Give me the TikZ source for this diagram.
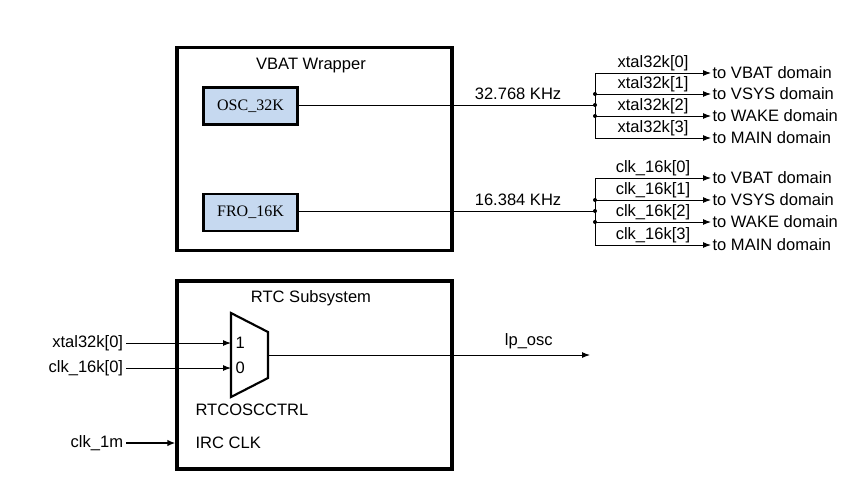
\documentclass[tikz,border=0pt]{standalone}
\usepackage{fontspec}
\setmainfont{Liberation Sans}
\newfontfamily\timesfont{Liberation Serif}
\usetikzlibrary{arrows.meta}
\definecolor{blockblue}{HTML}{C6D9F0}
\tikzset{
    wrapper/.style={draw, line width=2.5pt, minimum width=275\mypx, minimum height=203\mypx},
    oscbox/.style={draw, fill=blockblue, line width=2.2pt, minimum width=94\mypx, minimum height=37\mypx, font=\timesfont\fontsize{12}{14}\selectfont},
    lbl/.style={inner sep=1.5pt},
    freq/.style={inner sep=4pt},
    sig/.style={-{Latex[length=6pt,width=4.5pt]}, line width=0.75pt},
    wire/.style={line width=0.75pt},
    dot/.style={circle, fill, inner sep=0pt, minimum size=4\mypx}
}
\newlength{\mypx}
\setlength{\mypx}{0.75pt}
\begin{document}
\begin{tikzpicture}[x=0.75pt, y=-0.75pt, font=\fontsize{12.4}{14}\selectfont]
    \useasboundingbox (0,0) rectangle (862,482);

    % VBAT Wrapper
    \node[wrapper] (vbat) at (314.5,149) {};
    \node (vbattitle) at (311,66) {VBAT Wrapper};
    \node[oscbox] (osc) at (250.5,106) {OSC\_32K};
    \node[oscbox] (fro) at (250.5,212.5) {FRO\_16K};

    % 32K fan-out
    \coordinate (x32) at (595,105);
    \node[anchor=west, inner sep=1pt] (x32a) at (711,73) {to VBAT domain};
    \node[anchor=west, inner sep=1pt] (x32b) at (711,94) {to VSYS domain};
    \node[anchor=west, inner sep=1pt] (x32c) at (711,116) {to WAKE domain};
    \node[anchor=west, inner sep=1pt] (x32d) at (711,138) {to MAIN domain};
    \draw[wire] (osc.east |- x32) -- node[pos=0.74, above, freq] {32.768 KHz} (x32);
    \draw[wire] (x32a.west -| x32) -- (x32d.west -| x32);
    \draw[sig] (x32a.west -| x32) -- node[midway, above, lbl] {xtal32k[0]} (x32a.west);
    \draw[sig] (x32b.west -| x32) -- node[midway, above, lbl] {xtal32k[1]} (x32b.west);
    \draw[sig] (x32c.west -| x32) -- node[midway, above, lbl] {xtal32k[2]} (x32c.west);
    \draw[sig] (x32d.west -| x32) -- node[midway, above, lbl] {xtal32k[3]} (x32d.west);
    \node[dot] at (x32) {};
    \node[dot] at (x32b.west -| x32) {};
    \node[dot] at (x32c.west -| x32) {};

    % 16K fan-out
    \coordinate (x16) at (595,211);
    \node[anchor=west, inner sep=1pt] (x16a) at (711,178) {to VBAT domain};
    \node[anchor=west, inner sep=1pt] (x16b) at (711,200) {to VSYS domain};
    \node[anchor=west, inner sep=1pt] (x16c) at (711,222) {to WAKE domain};
    \node[anchor=west, inner sep=1pt] (x16d) at (711,245) {to MAIN domain};
    \draw[wire] (fro.east |- x16) -- node[pos=0.74, above, freq] {16.384 KHz} (x16);
    \draw[wire] (x16a.west -| x16) -- (x16d.west -| x16);
    \draw[sig] (x16a.west -| x16) -- node[midway, above, lbl] {clk\_16k[0]} (x16a.west);
    \draw[sig] (x16b.west -| x16) -- node[midway, above, lbl] {clk\_16k[1]} (x16b.west);
    \draw[sig] (x16c.west -| x16) -- node[midway, above, lbl] {clk\_16k[2]} (x16c.west);
    \draw[sig] (x16d.west -| x16) -- node[midway, above, lbl] {clk\_16k[3]} (x16d.west);
    \node[dot] at (x16) {};
    \node[dot] at (x16b.west -| x16) {};
    \node[dot] at (x16c.west -| x16) {};

    % RTC Subsystem
    \node[wrapper, minimum height=188\mypx] (rtc) at (314.5,375) {};
    \node (rtctitle) at (311,298) {RTC Subsystem};

    % Mux
    \draw[line width=1.6pt] (231,313) -- (268,332) -- (268,378) -- (231,397) -- cycle;
    \coordinate (mux1) at (231,343);
    \coordinate (mux0) at (231,368);
    \coordinate (muxo) at (268,355);
    \node[anchor=west, inner sep=1pt] (one) at (234,343) {1};
    \node[anchor=west, inner sep=1pt] (zero) at (234,368) {0};
    \node[anchor=west, inner sep=1pt] (ctrl) at (194,410) {RTCOSCCTRL};
    \node[anchor=west, inner sep=1pt] (irc) at (194,443) {IRC CLK};

    % Inputs
    \node[anchor=east, inner sep=2pt] (inx) at (126,343) {xtal32k[0]};
    \node[anchor=east, inner sep=2pt] (inc) at (126,368) {clk\_16k[0]};
    \node[anchor=east, inner sep=2pt] (in1m) at (126,443) {clk\_1m};
    \draw[sig] (inx.east) -- (mux1);
    \draw[sig] (inc.east) -- (mux0);
    \draw[-{Latex[length=6pt,width=5pt]}, line width=2.2pt] (in1m.east) -- (in1m.east -| rtc.west);

    % Output
    \coordinate (lpo) at (590,355);
    \draw[sig] (muxo) -- node[pos=0.81, above, freq] {lp\_osc} (lpo);
\end{tikzpicture}
\end{document}
